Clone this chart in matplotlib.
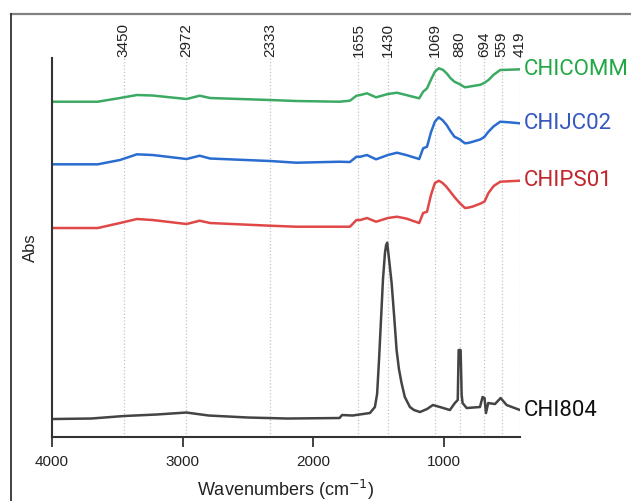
import numpy as np
import matplotlib.pyplot as plt
from matplotlib.lines import Line2D

# wavenumber grid shared by the three coloured spectra
wn = [4000, 3650, 3480, 3350, 3230, 2970, 2870, 2790, 2330, 2130, 1800, 1720,
      1670, 1640, 1590, 1520, 1430, 1360, 1290, 1190, 1160, 1130, 1100, 1070,
      1040, 1010, 980, 950, 920, 880, 840, 810, 780, 720, 690, 660, 620, 570,
      500, 419]

chicomm = [0, 0, 0.037, 0.067, 0.062, 0.027, 0.06, 0.037, 0.017, 0.007, 0.0, 0.01,
           0.06, 0.067, 0.084, 0.044, 0.077, 0.09, 0.067, 0.034, 0.10, 0.134, 0.22,
           0.30, 0.334, 0.32, 0.284, 0.235, 0.20, 0.175, 0.144, 0.15, 0.157, 0.17,
           0.19, 0.217, 0.27, 0.317, 0.32, 0.324]
chijc02 = [0, 0, 0.043, 0.10, 0.093, 0.053, 0.086, 0.058, 0.033, 0.016, 0.026, 0.023,
           0.076, 0.076, 0.093, 0.05, 0.093, 0.116, 0.093, 0.053, 0.16, 0.176, 0.32,
           0.426, 0.47, 0.44, 0.393, 0.33, 0.276, 0.25, 0.21, 0.215, 0.226, 0.25,
           0.276, 0.326, 0.38, 0.426, 0.42, 0.41]
chips01 = [0, 0, 0.05, 0.09, 0.08, 0.04, 0.073, 0.05, 0.023, 0.013, 0.013, 0.013,
           0.08, 0.08, 0.10, 0.063, 0.10, 0.113, 0.095, 0.05, 0.15, 0.163, 0.33,
           0.45, 0.473, 0.45, 0.41, 0.36, 0.31, 0.25, 0.20, 0.205, 0.215, 0.245,
           0.265, 0.35, 0.42, 0.463, 0.468, 0.473]

wn_804 = [4000, 3700, 3450, 3200, 2972, 2800, 2500, 2200, 1800, 1780, 1700, 1567,
          1529, 1512, 1497, 1482, 1467, 1452, 1443, 1435, 1420, 1401, 1380, 1363,
          1345, 1325, 1300, 1261, 1230, 1184, 1130, 1085, 1031, 955, 917, 895, 888,
          873, 865, 858, 827, 725, 705, 690, 679, 662, 610, 567, 521, 419]
chi804 = [0, 0.005, 0.03, 0.045, 0.065, 0.035, 0.015, 0.005, 0.01, 0.04, 0.035, 0.06,
          0.12, 0.25, 0.6, 1.0, 1.4, 1.66, 1.74, 1.763, 1.59, 1.36, 1.0, 0.69,
          0.5, 0.36, 0.22, 0.12, 0.09, 0.07, 0.1, 0.14, 0.12, 0.09, 0.16, 0.19, 0.69,
          0.69, 0.24, 0.16, 0.11, 0.12, 0.22, 0.21, 0.06, 0.16, 0.15, 0.21, 0.14, 0.09]

names = ["CHICOMM", "CHIJC02", "CHIPS01", "CHI804"]
marked = [3450, 2972, 2333, 1655, 1430, 1069, 880, 694, 559, 419]

series = [(wn, chicomm, 3.353, '#3daa64', '#22a845'),
          (wn, chijc02, 2.727, '#2a6dd0', '#3557c0'),
          (wn, chips01, 2.09, '#e04848', '#c0272d'),
          (wn_804, chi804, 0.18, '#444444', '#111111')]

fig = plt.figure(figsize=(6.31, 5.01), dpi=100)
ax = fig.add_axes([0.0824, 0.1277, 0.7416, 0.7565])

for xv in marked:
    ax.axvline(xv, color='#c4c4c4', ls=':', lw=0.9, zorder=0)

for (x, y, off, c, tc), name in zip(series, names):
    y = np.array(y) + off
    ax.plot(x, y, color=c, lw=1.8)
    ax.annotate(name, (x[-1], y[-1]), xytext=(3, 0), textcoords='offset points',
                va='center', ha='left', color=tc, fontsize=16, family='Roboto',
                annotation_clip=False)

ax.set_xlim(4000, 419)
ax.set_ylim(0, 3.79)
ax.set_yticks([])
ax.set_xticks([4000, 3000, 2000, 1000])
ax.tick_params(axis='x', length=7, width=1.2, labelsize=11, pad=6, colors='#222222')
for lab in ax.get_xticklabels():
    lab.set_family('Liberation Sans')
ax.spines['top'].set_visible(False)
ax.spines['right'].set_visible(False)
ax.spines['left'].set_linewidth(1.5)
ax.spines['bottom'].set_linewidth(1.5)
ax.spines['left'].set_color('#333333')
ax.spines['bottom'].set_color('#333333')

ax.set_xlabel('Wavenumbers (cm$^{-1}$)', fontsize=13, family='Liberation Sans',
              labelpad=6, color='#222222')
ax.set_ylabel('Abs', fontsize=12, family='Liberation Sans', labelpad=10, color='#222222')

sec = ax.secondary_xaxis('top')
sec.set_xticks(marked)
sec.set_xticklabels([str(v) for v in marked], rotation=90, family='Liberation Sans',
                    fontsize=11, color='#222222')
sec.tick_params(length=0, pad=1)
sec.spines['top'].set_visible(False)

# outer frame (top and left edges only)
fig.add_artist(Line2D([0.0174, 1.0], [0.972, 0.972], transform=fig.transFigure,
                      color='#808080', lw=1.6))
fig.add_artist(Line2D([0.0174, 0.0174], [0.0, 0.972], transform=fig.transFigure,
                      color='#333333', lw=1.3))

plt.savefig('out.png', dpi=100)
